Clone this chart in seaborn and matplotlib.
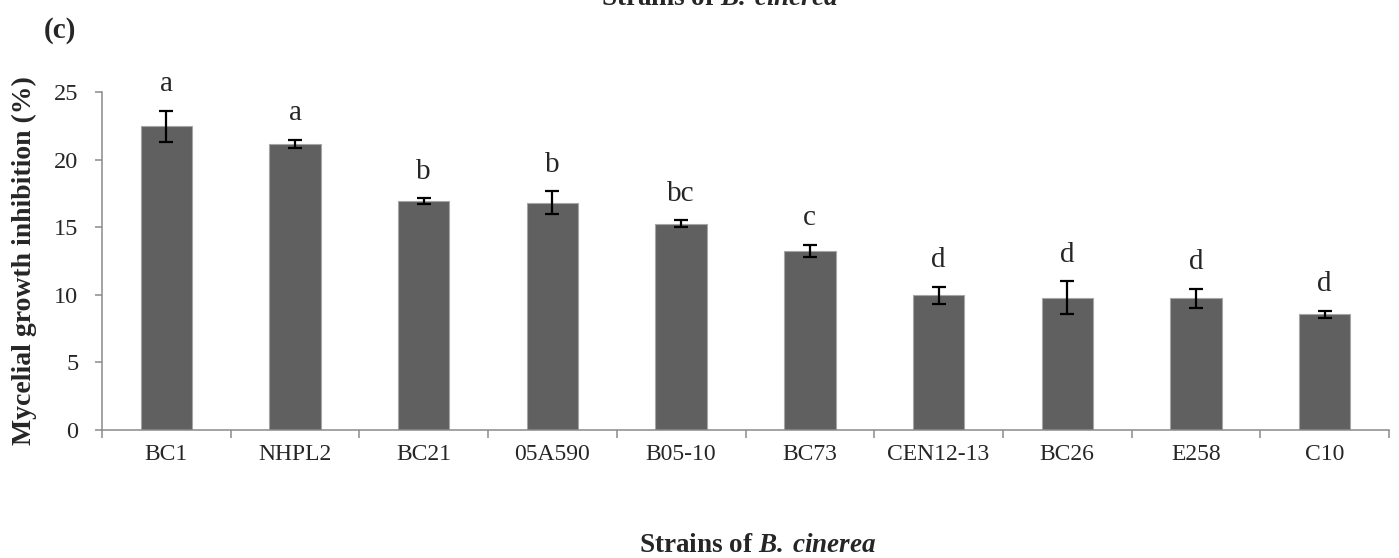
import matplotlib
matplotlib.use("Agg")
import matplotlib.pyplot as plt
import numpy as np
import pandas as pd
import seaborn as sns

# ── data ──
STRAINS = ["BC1", "NHPL2", "BC21", "05A590", "B05-10", "BC73", "CEN12-13", "BC26", "E258", "C10"]
INHIBITION = [22.45, 21.15, 16.95, 16.82, 15.27, 13.25, 9.95, 9.78, 9.76, 8.55]
ERR = [1.15, 0.30, 0.20, 0.83, 0.25, 0.44, 0.63, 1.22, 0.70, 0.26]
GROUPS = ["a", "a", "b", "b", "bc", "c", "d", "d", "d", "d"]
YTICKS = [0, 5, 10, 15, 20, 25]

sns.set_theme(style="white")
plt.rcParams["font.family"] = ["Liberation Serif", "DejaVu Serif"]
plt.rcParams["mathtext.fontset"] = "custom"
plt.rcParams["mathtext.rm"] = "Liberation Serif"
plt.rcParams["mathtext.bf"] = "Liberation Serif:bold"
plt.rcParams["mathtext.it"] = "Liberation Serif:italic"
plt.rcParams["mathtext.bfit"] = "Liberation Serif:bold:italic"

df = pd.DataFrame({"strain": STRAINS, "inhibition": INHIBITION, "err": ERR, "group": GROUPS})

fig = plt.figure(figsize=(13.99, 5.58), dpi=100)
ax = fig.add_axes([102 / 1399, 128 / 558, 1287 / 1399, 338 / 558])

sns.barplot(data=df, x="strain", y="inhibition", order=STRAINS, color="#606060",
            saturation=1, width=0.4, edgecolor="#a6a6a6", linewidth=0.8, errorbar=None, ax=ax)
ax.errorbar(np.arange(len(df)), df["inhibition"], yerr=df["err"], fmt="none",
            ecolor="black", elinewidth=1.6, capsize=4.8, capthick=1.6)

# significance letters above each error bar
for i, row in df.iterrows():
    ax.text(i, row.inhibition + row.err + 1.0, row.group, ha="center", va="bottom", fontsize=21)

ax.set_xlim(-0.5, len(STRAINS) - 0.5)
ax.set_ylim(0, 25)
ax.set_yticks(YTICKS)
ax.tick_params(axis="y", which="major", direction="out", length=5, width=1.1,
               color="#8a8a8a", labelsize=17.5, pad=12, left=True)
ax.tick_params(axis="x", which="major", length=0, labelsize=17, pad=10)
ax.set_xticks(np.arange(-0.5, len(STRAINS)), minor=True)
ax.tick_params(axis="x", which="minor", direction="out", length=6, width=1.1,
               color="#8a8a8a", bottom=True)

for side in ["top", "right"]:
    ax.spines[side].set_visible(False)
for side in ["left", "bottom"]:
    ax.spines[side].set_color("#8a8a8a")
    ax.spines[side].set_linewidth(1.1)

ax.set_xlabel("")
ax.set_ylabel("Mycelial growth inhibition (%)", fontsize=20, fontweight="bold", labelpad=12)

title = r"Strains of $\mathbfit{B.\;cinerea}$"
fig.text(758 / 1399, 6 / 558, title, ha="center", va="baseline", fontsize=19.5, fontweight="bold")
fig.text(720 / 1399, 1 - 5 / 558, title, ha="center", va="baseline", fontsize=19.5, fontweight="bold")
fig.text(60 / 1399, 1 - 31 / 558, "(c)", ha="center", va="center", fontsize=21, fontweight="bold")

fig.savefig("out.png", dpi=100)
